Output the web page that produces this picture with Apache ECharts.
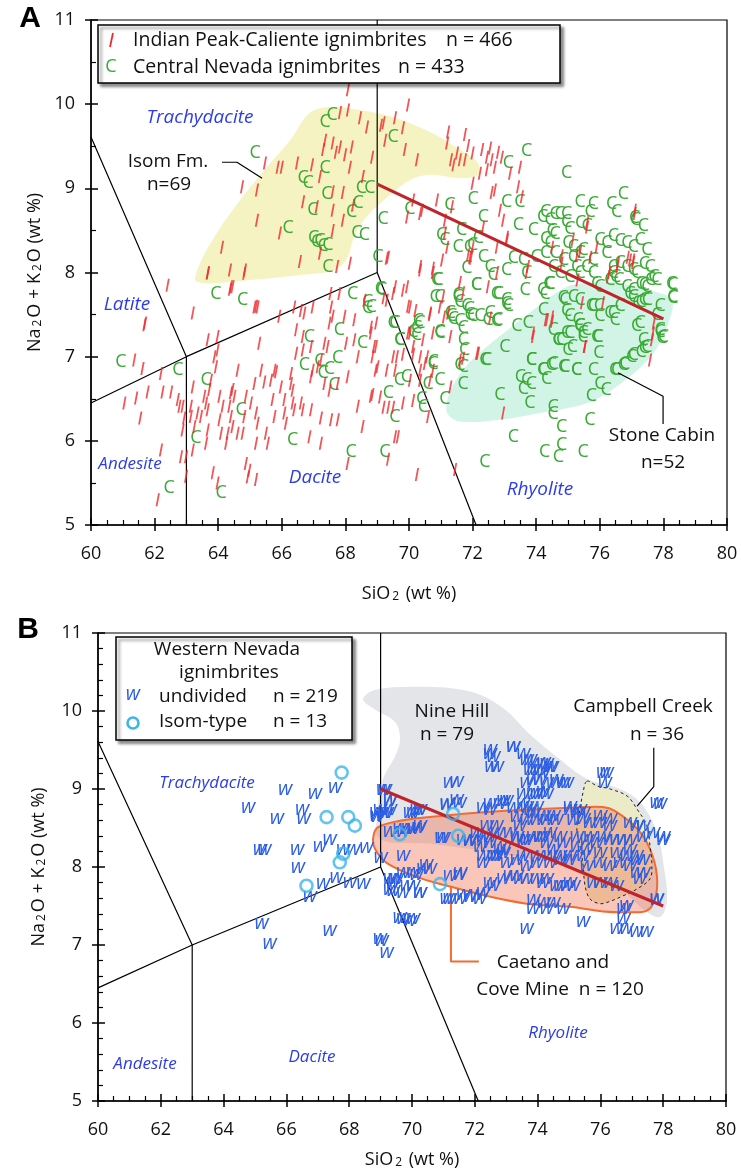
<!DOCTYPE html>
<html>
<head>
<meta charset="utf-8">
<script src="https://cdn.jsdelivr.net/npm/echarts@6/dist/echarts.min.js"></script>
<style>
  html, body { margin: 0; background: #fff; }
  #chart { width: 741px; height: 1170px; }
</style>
</head>
<body>
<div id="chart"></div>
<script>
// ---- axis ranges ----
const xRange = [60, 80];
const yRange = [5, 11];

// ---- TAS field boundaries (same in both panels) ----
const tasLines = [
  [[60, 9.61], [63, 7], [63, 5]],
  [[60, 6.45], [63, 7], [69, 8], [69, 11]],
  [[69, 8], [72.11, 5]]
];
const redLineA = [[69, 9.05], [78, 7.45]];
const redLineB = [[69, 9.0], [78, 7.5]];

// ---- panel A fields ----
const isomField = [[63.33,7.89],[63.43,8.11],[63.96,8.47],[64.69,8.86],[65.53,9.25],[66.26,9.57],[66.89,9.9],[67.61,9.97],[68.46,9.93],[69.56,9.84],[70.66,9.67],[71.6,9.46],[72.17,9.3],[72.17,9.16],[71.6,9.12],[70.66,9.16],[70.03,9.1],[69.4,8.92],[68.71,8.68],[68.3,8.45],[68.05,8.17],[67.67,8.03],[66.57,7.97],[65.0,7.91]];
const stoneCabinField = [[71.19,6.34],[71.6,6.23],[72.86,6.25],[74.12,6.33],[75.69,6.46],[76.79,6.72],[77.64,7.02],[78.14,7.38],[78.27,7.67],[77.74,7.77],[76.48,7.88],[75.69,7.88],[74.91,7.82],[74.03,7.59],[73.18,7.34],[72.39,7.1],[71.76,6.87],[71.29,6.58]];
const isomLeader = [[64.12,9.31],[64.59,9.31],[65.38,9.12]];
const stoneLeader = [[76.57,6.81],[77.99,6.53],[77.99,6.2]];

// ---- panel B fields ----
const nineHillField = [[68.44,10.15],[68.82,10.27],[70.25,10.31],[71.85,10.25],[72.9,10.04],[73.76,9.7],[74.62,9.41],[75.57,9.13],[76.62,9.0],[77.26,8.83],[77.8,8.45],[78.03,7.98],[78.12,7.56],[77.9,7.36],[77.42,7.44],[76.62,7.72],[75.35,7.98],[72.8,8.17],[70.57,8.3],[68.98,8.36],[68.89,8.68],[69.08,9.13],[69.46,9.42],[69.62,9.64],[69.46,9.86],[68.82,10.02]];
const caetanoField = [[68.76,8.36],[68.92,8.51],[69.71,8.6],[70.8,8.65],[71.85,8.69],[73.44,8.73],[75.03,8.76],[76.08,8.77],[76.46,8.72],[77.17,8.49],[77.58,8.23],[77.8,7.89],[77.74,7.59],[77.48,7.44],[76.94,7.42],[76.08,7.43],[75.03,7.49],[73.66,7.53],[72.48,7.62],[71.21,7.75],[70.16,7.87],[69.2,8.05],[68.85,8.21]];
const campbellField = [[75.57,9.1],[75.89,9.04],[76.31,9.0],[76.85,8.91],[77.17,8.74],[77.48,8.53],[77.58,8.27],[77.64,8.02],[77.58,7.85],[77.17,7.72],[76.72,7.63],[76.31,7.56],[75.99,7.53],[75.67,7.59],[75.51,7.76],[75.45,8.02],[75.35,8.27],[75.25,8.49],[75.35,8.74],[75.45,8.96]];
const caetanoLeader = [[71.24,7.75],[71.24,6.79],[72.13,6.79]];
const campbellLeader = [[77.17,8.78],[77.7,9.03],[77.7,9.53]];

// ---- panel A samples ----
const indianPeak = [
[68.08,10.17],[68.08,9.93],[67.83,9.9],[68.46,9.84],[68.68,9.73],[67.36,9.57],[67.6,9.54],[67.3,9.46],[67.83,9.49],[68.2,9.49],[67.99,9.4],[67.7,9.43],[68.84,9.37],[65.47,9.3],[65.87,9.25],[66.0,9.25],[66.48,9.3],[66.95,9.28],[67.2,9.14],[68.14,9.25],[68.55,9.14],[64.75,9.02],[65.22,8.98],[67.6,8.96],[67.92,8.95],[66.67,8.84],[67.1,8.78],[67.6,8.74],[68.24,8.8],[65.22,8.62],[67.92,8.62],[65.94,8.47],[67.6,8.5],[64.12,8.3],[67.2,8.23],[66.57,8.13],[67.74,8.07],[68.14,8.11],[63.68,8.0],[64.37,8.03],[64.84,8.03],
[69.97,9.99],[69.56,9.84],[69.12,9.75],[69.2,9.78],[69.81,9.72],[69.25,9.57],[69.87,9.46],[70.25,9.34],[71.23,9.67],[71.2,9.54],[71.76,9.64],[71.86,9.51],[71.32,9.34],[71.4,9.28],[71.51,9.42],[71.6,9.34],[71.76,9.34],[72.0,9.42],[72.3,9.46],[72.45,9.37],[72.55,9.48],[72.6,9.34],[72.7,9.25],[72.8,9.43],[72.92,9.37],[72.23,9.18],[72.0,9.06],[72.45,9.22],[73.18,9.18],[73.49,9.25],[73.43,9.02],[72.7,8.98],[72.6,8.95],[72.86,8.74],[73.55,8.9],[70.13,8.86],[70.41,8.74],[69.94,8.66],[70.88,8.86],[71.35,8.78],[71.13,8.62],[71.13,8.47],[71.2,8.3],[71.04,8.15],[72.33,8.54],[72.0,8.3],[71.92,8.18],[72.96,8.62],[73.08,8.42],[72.76,8.3],[73.74,8.07],[70.35,8.07],[70.75,8.05],[69.34,8.18],[74.5,8.3],[74.8,8.11],[75.28,8.2],[75.6,8.54],[75.9,8.3],[75.7,8.18],[76.3,8.0],[76.55,8.07],[77.1,8.74],[76.95,8.15],[77.05,8.12],
[70.35,8.7],[69.3,8.17],[70.35,8.03],[70.75,8.0],[71.6,7.88],[71.86,8.21],[71.95,8.17],[72.48,7.83],[72.77,8.0],[73.08,8.39],[69.56,7.83],[69.94,7.83],[71.07,7.71],[69.3,7.67],[70.03,7.59],[70.66,7.52],[70.97,7.59],[71.23,7.52],[71.7,7.76],[70.75,7.28],[71.3,7.24],[69.97,7.28],[70.44,7.2],[70.13,7.12],[70.57,7.0],[69.62,7.0],[69.3,6.84],[69.56,6.84],[70.35,6.84],[71.7,6.98],[72.17,7.04],[72.55,7.46],[73.7,8.0],[73.9,7.28],[74.34,7.44],[74.5,7.42],[74.8,8.2],[75.15,8.39],[75.38,8.25],[75.3,7.91],[75.6,8.59],[76.1,7.64],[75.44,7.64],[75.53,7.12],[76.26,7.95],[76.57,8.11],[76.88,8.18],[77.05,8.15],[77.1,8.7],[77.7,7.4],[77.64,7.2],[77.58,6.96],
[69.81,7.79],[69.5,7.75],[69.2,7.7],[69.97,7.6],[70.2,7.55],[70.66,7.5],[71.1,7.47],[68.97,7.4],[68.8,7.35],[70.03,7.28],[68.9,7.12],[68.85,7.0],[69.5,7.0],[69.81,7.03],[70.13,7.03],[70.35,7.0],[70.5,6.92],[70.75,6.84],[70.03,6.72],[70.35,6.72],[70.66,6.72],[69.09,6.52],[68.85,6.55],[69.2,6.4],[69.35,6.4],[69.5,6.4],[69.81,6.45],[70.13,6.48],[70.6,6.29],[69.56,6.05],[69.65,6.05],[69.34,5.78],[70.25,5.6],[71.45,5.66],[71.3,6.64],[72.14,7.04],[71.6,6.96],[72.96,6.33],[73.9,7.24],[74.5,7.47],[74.3,7.44],[75.53,7.12],[77.67,7.28],
[62.41,7.85],[61.68,7.38],[61.36,6.96],[61.62,6.86],[61.05,6.45],[61.42,6.51],[61.78,6.58],[61.55,6.27],[62.2,6.8],[62.25,6.58],[62.52,6.58],[62.73,6.49],[62.78,6.41],[62.88,6.41],[62.93,6.27],[62.88,6.13],[63.2,6.64],[63.14,6.41],[63.14,6.29],[63.25,6.17],[63.2,5.89],[62.99,5.81],[62.83,5.81],[62.2,5.89],[62.1,5.3],[62.99,5.58],[63.35,6.33],[63.46,6.29],[63.56,6.53],[63.62,6.45],[63.67,6.37],[63.72,6.61],[63.77,6.72],[63.93,6.88],[63.88,7.0],[63.98,7.08],[63.98,7.24],[63.67,7.2],[63.67,6.13],[63.62,5.97],[63.83,5.62],[63.98,5.5],[64.04,6.53],[64.04,6.25],[64.09,6.09],[64.14,6.41],[64.25,5.97],[64.35,6.41],[64.4,6.57],[64.45,6.61],[64.51,6.53],[64.4,6.29],[64.45,6.17],[64.3,6.09],[64.61,6.84],[64.61,6.09],[64.77,6.09],[64.82,6.29],[64.87,6.53],[64.87,5.73],[64.98,5.65],[64.93,5.57],[65.03,6.45],[65.14,6.68],[65.19,6.33],[65.19,5.97],[65.19,5.54],[65.24,6.21],[65.29,7.16],[65.35,6.84],[65.45,6.7],[65.5,6.09],[65.56,5.97],[65.66,6.72],[65.71,6.49],[65.77,6.84],[65.77,6.29],[65.82,6.82],[65.97,6.64],[66.08,6.49],[66.08,6.33],[66.13,6.21],[66.29,6.8],[66.29,6.68],[66.34,6.6],[66.34,6.45],[66.45,7.04],[66.45,7.32],[66.39,6.37],[66.6,6.45],[66.66,6.37],[66.66,7.24],[66.66,7.08],[66.71,7.52],[66.92,7.12],[66.92,6.76],[66.87,6.05],[66.92,6.37],[66.97,6.84],[67.13,6.88],[67.23,6.96],[67.23,6.27],[67.23,5.97],[67.34,6.68],[67.34,7.16],[67.44,7.12],[67.5,6.6],[67.5,7.4],[67.53,7.75],[67.55,6.25],[67.76,6.25],[67.81,7.75],[67.76,6.68],[67.97,7.48],[68.02,7.16],[68.07,6.76],[68.07,5.73],[68.28,7.44],[68.28,7.2],[68.39,6.41],[68.39,7.0],[68.54,6.17],[68.6,7.67],[68.8,6.53],[68.8,7.28],[68.96,7.12],[69.01,6.88],[68.95,6.84],
[63.67,7.99],[64.4,7.83],[64.45,7.83],[64.82,7.99],[65.14,7.59],[65.24,7.59],[65.92,7.48],[66.39,7.59],[66.6,7.55],[66.97,7.59],[67.55,7.59],[67.6,7.48],[61.7,7.4],[63.2,7.52],[64.37,7.8],[65.19,7.6]
];

const centralNevada = [
[65.16,9.42],[67.58,9.87],[67.36,9.79],[67.36,9.24],[66.67,9.12],[66.83,9.06],[67.42,8.94],[66.98,8.74],[66.2,8.53],[67.0,8.41],[67.2,8.38],[67.3,8.32],[67.45,8.33],[67.1,8.36],[68.5,9.0],[68.77,9.0],[68.4,8.83],[68.2,8.72],[68.36,8.47],[68.6,8.45],[67.45,8.07],[69.02,8.18],[69.5,9.61],
[73.7,9.44],[73.13,9.3],[74.96,9.18],[72.02,8.88],[73.07,8.84],[73.49,8.84],[71.29,8.8],[70.03,8.76],[69.19,8.64],[72.34,8.66],[73.44,8.57],[73.91,8.51],[71.66,8.51],[71.03,8.45],[71.13,8.39],[72.18,8.41],[71.55,8.31],[71.9,8.31],[72.0,8.33],[72.34,8.19],[71.82,8.05],[72.55,8.07],[72.65,7.97],[73.07,8.03],[73.28,8.17],[73.6,8.15],[73.7,7.99],[70.92,7.91],[72.13,7.85],[70.82,7.71],[71.55,7.71],[71.82,7.6],[72.81,7.75],[73.07,7.67],[73.13,7.6],[73.65,7.79],[74.28,7.75],[70.3,7.42],[71.34,7.48],[71.6,7.42],[71.92,7.5],[72.55,7.52],[72.76,7.42],[73.39,7.36],[73.75,7.4],[69.56,7.4],[69.72,7.2],[70.24,7.26],[70.98,7.28],[71.71,7.2],[72.44,6.96],[73.02,7.12],[71.71,6.88],[70.77,6.94],[73.86,6.96],[74.23,6.84],[74.54,6.92],[74.86,6.88],[75.27,6.84],[75.8,6.84],[76.53,6.84],[76.79,6.92],[77.06,7.02],[75.97,7.04],[75.14,7.12],[74.96,7.28],[74.7,7.2],[74.8,7.2],[75.38,7.36],[75.48,7.28],[75.59,7.32],[75.9,7.24],[74.96,7.54],[74.9,7.68],[74.23,7.56],[75.38,7.68],[75.8,7.6],[76.0,7.48],[76.43,7.52],[76.48,7.44],[76.64,7.6],[77.27,7.4],[77.9,7.32],[78.0,7.24],[77.37,7.2],[77.48,7.12],[77.2,7.64],[77.3,7.65],[77.4,7.67],[77.5,7.68],[77.06,7.79],[77.06,7.71],[76.6,7.91],[76.5,7.95],[76.85,7.83],[76.95,7.75],[77.3,7.87],[77.48,7.83],[77.8,7.91],[78.26,7.87],[78.3,7.71],[77.9,7.6],[77.7,7.95],[77.16,7.99],[76.43,7.99],[76.85,8.07],[77.06,8.03],[75.8,7.99],[75.38,7.99],[75.06,7.95],[74.75,7.99],[74.44,7.87],[74.54,8.07],[74.86,8.15],[75.17,8.19],[75.48,8.27],[75.8,8.15],[76.0,8.39],[76.22,8.35],[76.43,8.43],[76.64,8.38],[76.85,8.35],[77.06,8.31],[77.27,8.39],[77.48,8.27],[77.4,8.1],[77.58,8.07],[77.1,8.65],[77.13,8.62],[77.37,8.55],[76.74,8.94],[76.37,8.82],[76.53,8.72],[75.8,8.82],[75.38,8.84],[75.7,8.72],[75.4,8.59],[75.6,8.55],[74.96,8.6],[75.06,8.52],[74.6,8.7],[74.75,8.7],[74.96,8.7],[74.3,8.72],[74.2,8.66],[74.44,8.62],[74.5,8.5],[74.6,8.46],[74.3,8.4],[74.44,8.35],[75.0,8.35],[75.17,8.3],[74.0,8.19],[74.3,8.23],[74.6,8.23],[75.38,8.23],[76.22,8.23],[76.43,8.07],[76.64,8.11],[75.27,8.07],[75.59,8.07],[75.9,7.87],[76.0,7.83],[76.32,7.91],
[70.87,7.91],[69.14,7.79],[68.82,7.59],[70.97,7.71],[71.55,7.73],[71.6,7.65],[72.12,7.85],[72.75,7.75],[73.07,7.63],[71.9,7.57],[72.0,7.49],[71.3,7.52],[71.4,7.45],[71.7,7.34],[72.23,7.48],[72.49,7.44],[72.8,7.44],[69.5,7.4],[70.34,7.4],[70.24,7.34],[69.71,7.2],[70.13,7.3],[70.97,7.3],[71.75,7.08],[70.76,6.92],[70.6,6.68],[70.97,6.72],[69.7,6.73],[69.92,6.76],[69.35,6.57],[70.4,6.5],[70.45,6.4],[71.6,6.9],[71.7,6.68],[71.13,6.5],[72.39,6.96],[72.86,6.55],[73.28,6.05],[72.39,5.75],[69.56,6.29],[69.24,5.87],[73.85,6.96],[73.7,6.72],[73.5,6.76],[73.6,6.62],[73.85,6.68],[74.2,6.84],[74.33,6.74],[74.48,6.9],[73.8,6.45],[74.53,6.4],[74.53,6.32],[74.8,6.17],[74.27,5.87],[74.7,5.81],[74.8,5.95],[75.48,5.87],[75.69,6.25],[74.9,6.88],[75.27,6.84],[75.74,6.53],[76.0,6.68],[76.2,6.6],[76.47,6.84],[76.74,6.9],[77.0,7.0],[77.4,7.1],[77.3,7.06],[77.16,7.36],[77.9,7.3],[77.95,7.22],[77.8,7.5],[78.3,7.85],[78.3,7.7],[77.4,7.85],[77.6,7.91],[74.53,7.32],[74.68,7.2],[75.06,7.28],[75.37,7.36],[75.48,7.24],[75.0,7.08],[75.95,7.24],[76.32,7.52],[75.99,7.6],[75.74,7.6],[74.85,7.7],[75.17,7.71],[74.2,7.79],[74.4,7.87],[75.06,7.48],[75.32,7.44],
[63.93,7.75],[64.77,7.67],[60.94,6.94],[62.73,6.84],[63.62,6.72],[64.72,6.37],[63.3,6.03],[62.46,5.44],[64.09,5.38],[66.34,6.01],[68.18,5.87],[66.87,7.24],[67.81,7.32],[66.71,6.9],[67.2,6.95],[67.3,6.81],[67.5,6.86],[67.76,6.98],[67.65,6.66],[68.54,7.16],[68.23,7.75],[68.7,7.65],[68.7,7.58],[69.1,7.8]
];

// ---- panel B samples ----
const westernUndivided = [
[64.78,8.77],[65.96,9.0],[66.91,8.94],[67.55,9.02],[65.7,8.62],[66.5,8.74],[66.55,8.62],[65.16,8.23],[65.3,8.23],[66.34,8.23],[66.37,8.0],[67.07,8.27],[67.38,8.36],[67.81,8.23],[68.13,8.23],[68.55,8.25],[67.6,7.87],[68.02,7.81],[68.45,7.79],[67.17,7.79],[66.75,7.62],[65.21,7.28],[67.38,7.19],[65.47,7.02],[69.03,7.06],[68.87,8.7],[69.14,8.7],[69.14,9.0],[69.3,8.87],[69.61,8.49],[69.88,8.49],[70.2,8.51],[70.04,8.7],[70.25,8.74],[71.1,8.81],[71.52,8.83],[71.42,9.1],[70.94,8.38],[71.84,8.34],[72.05,8.34],[69.0,8.13],[69.72,8.15],[70.57,7.98],[70.45,8.04],[70.14,7.91],[69.45,7.85],[69.4,7.7],[69.83,7.76],[70.25,7.68],[71.52,7.91],[71.2,7.6],[71.63,7.65],[71.85,7.63],[72.06,7.65],[69.61,7.36],[69.93,7.32],[68.9,8.65],
[72.48,9.46],[72.53,9.29],[73.22,9.55],[73.65,9.38],[73.97,9.33],[74.29,9.33],[73.76,9.25],[74.18,9.21],[74.45,9.29],[73.65,9.08],[73.86,9.12],[74.07,9.12],[74.29,9.08],[74.6,9.12],[74.82,9.08],[76.09,9.21],[76.14,9.08],[73.54,8.95],[73.86,8.95],[74.18,8.97],[71.21,9.08],[71.42,8.87],[71.1,8.82],[72.48,8.82],[72.8,8.82],[73.01,8.85],[72.27,8.76],[73.54,8.82],[73.76,8.74],[73.97,8.78],[75.03,8.74],[75.24,8.7],[75.45,8.7],[75.14,8.61],[73.33,8.65],[73.65,8.61],[73.97,8.61],[74.29,8.61],[74.6,8.61],[75.66,8.57],[75.98,8.57],[76.3,8.53],[77.9,8.82],[76.94,8.57],[77.15,8.53],[69.08,9.0],[69.3,8.85],[68.98,8.74],[69.3,8.74],[70.15,8.74],[68.87,8.66],[69.19,8.7],[69.93,8.7],[70.25,8.74],[69.3,8.46],[69.72,8.46],[70.04,8.49],[70.25,8.53],[71.0,8.38],[71.63,8.36],[71.84,8.36],[72.06,8.44],[72.38,8.53],[72.69,8.53],[72.48,8.4],[72.48,8.32],[72.8,8.27],[72.69,8.15],[73.33,8.4],[73.54,8.36],[73.86,8.4],[74.18,8.4],[74.29,8.32],[74.5,8.23],[74.82,8.32],[75.24,8.4],[75.56,8.36],[75.88,8.32],[76.3,8.36],[76.52,8.36],[76.73,8.36],[77.36,8.4],[77.68,8.44],[78.0,8.36],[76.94,8.23],[77.15,8.15],[77.36,8.1],[72.27,8.15],[72.59,8.15],[72.91,8.19],[73.54,8.15],[73.97,8.15],[74.39,8.15],[74.71,8.15],[75.03,8.15],[75.45,8.15],[75.56,8.02],[75.98,8.06],[76.3,8.02],[76.62,8.06],[69.72,7.93],[70.04,7.93],[70.36,7.98],[71.21,7.89],[71.53,7.93],[72.48,7.8],[72.91,7.85],[73.33,7.89],[73.65,7.85],[74.18,7.8],[74.6,7.76],[75.03,7.8],[69.3,7.85],[69.51,7.85],[70.04,7.76],[69.3,7.72],
[72.49,9.51],[72.59,9.42],[72.7,9.29],[73.23,9.55],[73.55,9.46],[73.76,9.38],[74.19,9.34],[74.4,9.29],[73.87,9.25],[74.08,9.25],[74.61,9.08],[74.93,9.08],[73.97,8.95],[74.29,8.95],[76.2,9.21],[77.79,8.83],[72.49,8.74],[72.91,8.85],[73.23,8.76],[73.65,8.78],[73.87,8.7],[74.19,8.66],[74.5,8.66],[72.27,8.4],[72.7,8.44],[73.12,8.44],[73.44,8.53],[72.17,8.27],[72.91,8.23],[73.34,8.4],[73.65,8.36],[74.08,8.4],[74.4,8.44],[74.72,8.4],[75.03,8.78],[75.35,8.74],[75.46,8.62],[75.99,8.66],[76.31,8.62],[75.67,8.4],[76.1,8.4],[76.95,8.36],[77.37,8.53],[78.01,8.4],[72.27,8.06],[72.7,8.15],[73.02,8.06],[73.34,8.1],[73.65,8.02],[73.97,8.06],[74.4,8.06],[74.72,8.1],[75.03,8.1],[75.25,8.27],[75.57,8.23],[75.99,8.19],[76.52,8.19],[76.84,8.15],[77.16,8.1],[76.95,8.02],[77.16,7.93],[77.37,7.93],[77.26,7.85],[73.12,7.89],[73.44,7.85],[73.97,7.85],[74.29,7.85],[72.27,7.68],[72.59,7.76],[73.87,7.59],[74.19,7.55],[74.5,7.55],[74.72,7.76],[74.93,7.76],[75.14,7.76],[75.78,7.81],[75.99,7.81],[76.31,7.81],[76.52,7.76],[77.79,7.59],[76.73,7.47],
[69.4,7.81],[69.72,7.68],[70.25,7.68],[71.1,7.6],[71.53,7.6],[72.16,7.6],[69.72,7.34],[70.04,7.34],[68.98,7.08],[69.19,6.91],[73.65,7.21],[73.86,7.47],[74.29,7.47],[74.82,7.47],[75.45,7.3],[76.52,7.21],[76.83,7.21],[77.15,7.17],[77.47,7.17],[76.73,7.34],[76.83,7.51],[77.79,7.6]
];
const isomType = [[67.76,9.21],[67.28,8.64],[67.97,8.64],[68.18,8.53],[67.81,8.17],[67.7,8.06],[66.64,7.76],[69.61,8.42],[70.89,7.78],[71.31,8.68],[71.47,8.4]];

// ---- styling ----
const FONT = 'Open Sans';
const FIELD_BLUE = '#2b3ce8';
const chart = echarts.init(document.getElementById('chart'));

function axisPair(dim, gi, minorSplit, interval, labelMargin, name, nameGap) {
  const main = {
    type: 'value', gridIndex: gi,
    position: dim === 'x' ? 'bottom' : 'left',
    min: dim === 'x' ? xRange[0] : yRange[0],
    max: dim === 'x' ? xRange[1] : yRange[1],
    interval: interval,
    axisLine: { show: true, onZero: false, lineStyle: { color: '#000', width: 1.5 } },
    axisTick: { show: true, length: 6, lineStyle: { color: '#000', width: 1.5 } },
    minorTick: { show: false },
    axisLabel: { color: '#111', fontSize: 18, fontFamily: FONT, margin: labelMargin },
    splitLine: { show: false },
    name: name, nameLocation: 'middle', nameGap: nameGap,
    nameRotate: dim === 'x' ? 0 : 90,
    nameTextStyle: {
      color: '#111',
      rich: {
        t: { fontSize: 18, fontFamily: FONT, color: '#111', lineHeight: 22, verticalAlign: 'bottom' },
        s: { fontSize: 12, fontFamily: FONT, color: '#111', lineHeight: 12, verticalAlign: 'bottom', padding: [0, 2, 0, 2] }
      }
    }
  };
  const overlay = {
    type: 'value', gridIndex: gi,
    position: dim === 'x' ? 'bottom' : 'left',
    min: main.min, max: main.max, interval: interval,
    axisLine: { show: false, onZero: false },
    axisLabel: { show: false },
    axisTick: { show: true, inside: true, length: 7, lineStyle: { color: '#000', width: 1.5 } },
    minorTick: { show: true, splitNumber: minorSplit, length: 5, lineStyle: { color: '#000', width: 1.2 } },
    splitLine: { show: false }
  };
  return [main, overlay];
}

const xName = '{t|SiO}{s|2}{t| (wt %)}';
const yName = '{t|Na}{s|2}{t|O + K}{s|2}{t|O (wt %)}';

const xAxes = [
  ...axisPair('x', 0, 4, 2, 20, xName, 56),
  ...axisPair('x', 1, 4, 2, 20, xName, 46)
];
const yAxes = [
  ...axisPair('y', 0, 2, 1, 16, yName, 44),
  ...axisPair('y', 1, 5, 1, 16, yName, 50)
];

function ax(panel) { return { xAxisIndex: panel * 2, yAxisIndex: panel * 2 }; }

function polygonSeries(panel, pts, style, z) {
  return {
    type: 'custom', ...ax(panel), data: [pts[0]], z: z, silent: true, clip: true,
    renderItem: (params, api) => ({
      type: 'polygon',
      shape: { points: pts.map(p => api.coord(p)), smooth: 0.35 },
      style: style
    })
  };
}

function lineSeries(panel, pts, color, width, z) {
  return {
    type: 'line', ...ax(panel), data: pts, symbol: 'none', silent: true, z: z,
    lineStyle: { color: color, width: width }, animation: false
  };
}

function glyphSeries(panel, pts, glyph, color, size, italic, z) {
  const fontStr = (italic ? 'italic ' : '') + size + 'px "' + FONT + '"';
  return {
    type: 'custom', ...ax(panel), data: pts, z: z, silent: true,
    renderItem: (params, api) => {
      const p = api.coord([api.value(0), api.value(1)]);
      return {
        type: 'text', x: p[0], y: p[1],
        style: {
          legacy: false,
          text: glyph, fill: color, font: fontStr, fontSize: size, fontFamily: FONT,
          fontStyle: italic ? 'italic' : 'normal', align: 'center', verticalAlign: 'middle'
        }
      };
    }
  };
}

const series = [];
// panel A
series.push(polygonSeries(0, isomField, { fill: '#f6f3c2' }, 1));
series.push(polygonSeries(0, stoneCabinField, { fill: '#d2f4e6' }, 1));
tasLines.forEach(l => series.push(lineSeries(0, l, '#000', 1.2, 2)));
series.push({
  type: 'scatter', ...ax(0), data: indianPeak, z: 4, silent: true,
  symbol: 'path://M2.4,0 L4.2,0 L1.8,13 L0,13 Z', symbolSize: [4.2, 13],
  itemStyle: { color: '#ef2b2d' }
});
series.push(glyphSeries(0, centralNevada, 'C', '#3aaa35', 18, false, 4));
series.push(lineSeries(0, redLineA, '#c1232b', 3, 6));
series.push(lineSeries(0, isomLeader, '#000', 1.2, 6));
series.push(lineSeries(0, stoneLeader, '#000', 1.2, 6));

// panel B
series.push(polygonSeries(1, nineHillField, { fill: '#e4e5e8' }, 1));
series.push(polygonSeries(1, campbellField, { fill: '#ecebc8' }, 1));
series.push(polygonSeries(1, caetanoField, { fill: 'rgba(240,105,70,0.38)', stroke: '#f26b30', lineWidth: 2 }, 1));
series.push(polygonSeries(1, campbellField, { fill: 'none', stroke: '#222', lineWidth: 1, lineDash: [3, 3] }, 2));
tasLines.forEach(l => series.push(lineSeries(1, l, '#000', 1.2, 2)));
series.push(lineSeries(1, caetanoLeader, '#f26b30', 2, 2));
series.push(lineSeries(1, campbellLeader, '#000', 1.2, 2));
series.push(glyphSeries(1, westernUndivided, 'w', '#2c5fe6', 20, true, 4));
series.push(lineSeries(1, redLineB, '#c1232b', 3, 5));
series.push({
  type: 'scatter', ...ax(1), data: isomType, z: 6, silent: true,
  symbol: 'circle', symbolSize: 12,
  itemStyle: { color: 'rgba(0,0,0,0)', borderColor: '#3db5e8', borderWidth: 2.6 }
});

function txt(x, y, text, opts) {
  return {
    type: 'text', x: x, y: y, z: 100,
    style: Object.assign({ text: text, fill: '#111', fontSize: 19, fontFamily: FONT, align: 'center', verticalAlign: 'middle' }, opts || {})
  };
}
function fieldTxt(x, y, text, size) {
  return txt(x, y, text, { fill: FIELD_BLUE, fontSize: size, fontStyle: 'italic' });
}

const graphics = [
  txt(30, 19, 'A', { fontSize: 30, fontWeight: 'bold', fontFamily: 'Liberation Sans', fill: '#000' }),
  txt(28, 630, 'B', { fontSize: 30, fontWeight: 'bold', fontFamily: 'Liberation Sans', fill: '#000' }),
  // legend A
  { type: 'rect', z: 99, shape: { x: 98, y: 25, width: 462, height: 58 },
    style: { fill: '#fff', stroke: '#000', lineWidth: 1.5, shadowBlur: 3, shadowOffsetX: 3, shadowOffsetY: 3, shadowColor: 'rgba(0,0,0,0.45)' } },
  { type: 'line', z: 100, shape: { x1: 113, y1: 33, x2: 110, y2: 47 }, style: { stroke: '#ef2b2d', lineWidth: 1.8 } },
  txt(111, 67, 'C', { fill: '#3aaa35', fontSize: 18 }),
  txt(133, 40, 'Indian Peak-Caliente ignimbrites', { align: 'left', fontSize: 19.5 }),
  txt(446, 40, 'n = 466', { align: 'left', fontSize: 19.5 }),
  txt(133, 67, 'Central Nevada ignimbrites', { align: 'left', fontSize: 19.5 }),
  txt(398, 67, 'n = 433', { align: 'left', fontSize: 19.5 }),
  // field names A
  fieldTxt(200, 118, 'Trachydacite', 19),
  fieldTxt(127, 305, 'Latite', 19),
  fieldTxt(130, 464, 'Andesite', 17),
  fieldTxt(315, 478, 'Dacite', 19),
  fieldTxt(540, 490, 'Rhyolite', 19),
  txt(168, 162, 'Isom Fm.'),
  txt(169, 185, 'n=69'),
  txt(662, 436, 'Stone Cabin'),
  txt(663, 463, 'n=52'),
  // legend B
  { type: 'rect', z: 99, shape: { x: 116, y: 637, width: 236, height: 103 },
    style: { fill: '#fff', stroke: '#000', lineWidth: 1.5, shadowBlur: 3, shadowOffsetX: 3, shadowOffsetY: 3, shadowColor: 'rgba(0,0,0,0.45)' } },
  txt(227, 650, 'Western Nevada'),
  txt(229, 673, 'ignimbrites'),
  txt(133, 694, 'w', { fill: '#2c5fe6', fontSize: 20, fontStyle: 'italic' }),
  { type: 'circle', z: 100, shape: { cx: 133, cy: 723, r: 5.5 }, style: { fill: 'none', stroke: '#3db5e8', lineWidth: 2.6 } },
  txt(159, 697, 'undivided', { align: 'left' }),
  txt(273, 697, 'n = 219', { align: 'left' }),
  txt(159, 722, 'Isom-type', { align: 'left' }),
  txt(273, 722, 'n = 13', { align: 'left' }),
  // field names B
  fieldTxt(207, 783, 'Trachydacite', 17),
  fieldTxt(145, 1064, 'Andesite', 17),
  fieldTxt(312, 1057, 'Dacite', 17),
  fieldTxt(558, 1033, 'Rhyolite', 17),
  txt(452, 712, 'Nine Hill'),
  txt(447, 735, 'n = 79'),
  txt(643, 707, 'Campbell Creek'),
  txt(657, 735, 'n = 36'),
  txt(553, 963, 'Caetano and'),
  txt(560, 990, 'Cove Mine  n = 120')
];

chart.setOption({
  animation: false,
  backgroundColor: '#fff',
  grid: [
    { left: 91, top: 20, width: 636, height: 505, show: true, borderColor: '#000', borderWidth: 1.2, backgroundColor: 'transparent' },
    { left: 98, top: 633, width: 628, height: 470, show: true, borderColor: '#000', borderWidth: 1.2, backgroundColor: 'transparent' }
  ],
  xAxis: xAxes,
  yAxis: yAxes,
  series: series,
  graphic: graphics
});
</script>
</body>
</html>
